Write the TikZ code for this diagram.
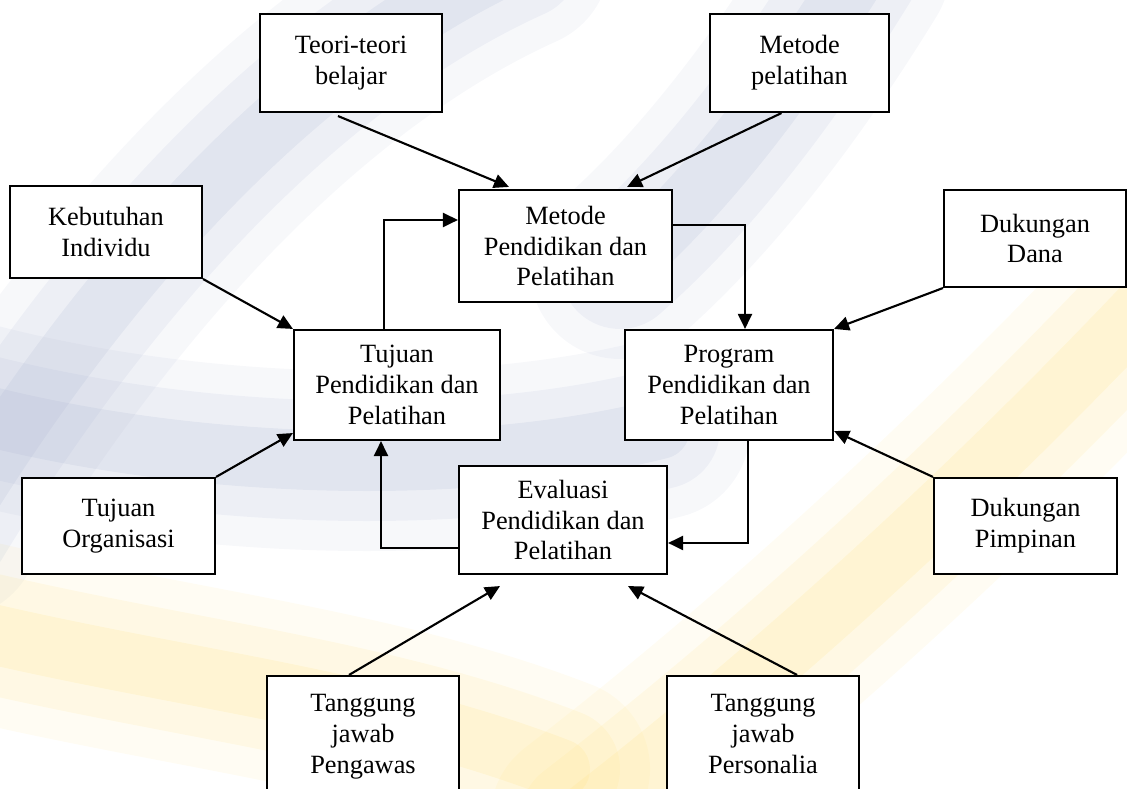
\documentclass[tikz,border=0pt]{standalone}
\usepackage{fontspec}
\setmainfont{Liberation Serif}
\usepackage{tikz}
\usetikzlibrary{arrows.meta}

\definecolor{latarbiru}{RGB}{165,175,205}
\definecolor{latarkuning}{RGB}{255,222,120}

\tikzset{
	kotak/.style={draw, fill=white, line width=0.6pt, align=center, inner sep=0pt,
		font=\fontsize{7.5}{8.8}\selectfont},
	panah/.style={->, line width=0.6pt},
	pita/.style={line cap=round, line width=#1},
}

\begin{document}
\begin{tikzpicture}[>={Triangle[length=1.5mm,width=1.4mm]}]
	\useasboundingbox (0,0) rectangle (11.27,7.89);
	% latar (watermark)
	\begin{scope}
		\clip (0,0) rectangle (11.27,7.89);
		\foreach \w/\o in {1.8cm/0.09, 1.2cm/0.12, 0.6cm/0.16} {
			\draw[pita=\w, latarbiru, opacity=\o] (-0.5,2.6) .. controls (1.2,5.4) and (3.2,7.4) .. (5.2,8.3);
			\draw[pita=\w, latarbiru, opacity=\o] (-0.4,3.8) .. controls (1.8,3.2) and (4.6,3.1) .. (6.6,3.6);
			\draw[pita=\w, latarbiru, opacity=\o] (8.6,8.2) .. controls (7.8,6.9) and (7.0,5.9) .. (6.2,5.2);
			\draw[pita=\w, latarkuning, opacity=\o] (-0.3,1.6) .. controls (1.8,1.1) and (3.8,0.9) .. (5.6,0.2);
			\draw[pita=\w, latarkuning, opacity=\o] (5.8,-0.3) .. controls (8.0,1.4) and (10.0,3.3) .. (11.6,5.0);
		}
	\end{scope}
	% kotak
	\node[kotak, minimum width=1.82cm, minimum height=0.98cm] (teori) at (3.51,7.26) {Teori-teori\\belajar};
	\node[kotak, minimum width=1.79cm, minimum height=0.98cm] (metlat) at (7.995,7.26) {Metode\\pelatihan};
	\node[kotak, minimum width=1.92cm, minimum height=0.92cm] (kebutuhan) at (1.06,5.57) {Kebutuhan\\Individu};
	\node[kotak, minimum width=2.13cm, minimum height=1.12cm] (metode) at (5.655,5.43) {Metode\\Pendidikan dan\\Pelatihan};
	\node[kotak, minimum width=1.82cm, minimum height=0.97cm] (dana) at (10.35,5.505) {Dukungan\\Dana};
	\node[kotak, minimum width=2.06cm, minimum height=1.10cm] (tujuan) at (3.97,4.04) {Tujuan\\Pendidikan dan\\Pelatihan};
	\node[kotak, minimum width=2.08cm, minimum height=1.10cm] (program) at (7.29,4.04) {Program\\Pendidikan dan\\Pelatihan};
	\node[kotak, minimum width=1.93cm, minimum height=0.96cm] (organisasi) at (1.185,2.63) {Tujuan\\Organisasi};
	\node[kotak, minimum width=2.08cm, minimum height=1.08cm] (evaluasi) at (5.63,2.69) {Evaluasi\\Pendidikan dan\\Pelatihan};
	\node[kotak, minimum width=1.83cm, minimum height=0.96cm] (pimpinan) at (10.255,2.63) {Dukungan\\Pimpinan};
	\node[kotak, minimum width=1.92cm, minimum height=1.22cm] (pengawas) at (3.63,0.52) {Tanggung\\jawab\\Pengawas\vphantom{l}};
	\node[kotak, minimum width=1.92cm, minimum height=1.22cm] (personalia) at (7.63,0.52) {Tanggung\\jawab\\Personalia\vphantom{g}};
	% panah
	\draw[panah] ([xshift=-0.13cm,yshift=-0.03cm]teori.south) -- ([xshift=0.51cm,yshift=0.02cm]metode.north west);
	\draw[panah] ([xshift=-0.18cm]metlat.south) -- ([xshift=-0.46cm,yshift=0.02cm]metode.north east);
	\draw[panah] (kebutuhan.south east) -- (tujuan.north west);
	\draw[panah] ([xshift=-0.13cm]tujuan.north) |- ([yshift=0.26cm]metode.west);
	\draw[panah] ([yshift=0.21cm]metode.east) -| ([xshift=0.16cm]program.north);
	\draw[panah] (dana.south west) -- (program.north east);
	\draw[panah] (organisasi.north east) -- ([yshift=0.08cm]tujuan.south west);
	\draw[panah] ([yshift=-0.28cm]evaluasi.west) -| ([xshift=-0.16cm]tujuan.south);
	\draw[panah] ([xshift=0.19cm]program.south) |- ([yshift=-0.23cm]evaluasi.east);
	\draw[panah] (pimpinan.north west) -- ([yshift=0.1cm]program.south east);
	\draw[panah] ([xshift=-0.14cm]pengawas.north) -- ([xshift=-0.63cm,yshift=-0.11cm]evaluasi.south);
	\draw[panah] ([xshift=0.34cm]personalia.north) -- ([xshift=0.65cm,yshift=-0.11cm]evaluasi.south);
\end{tikzpicture}
\end{document}
